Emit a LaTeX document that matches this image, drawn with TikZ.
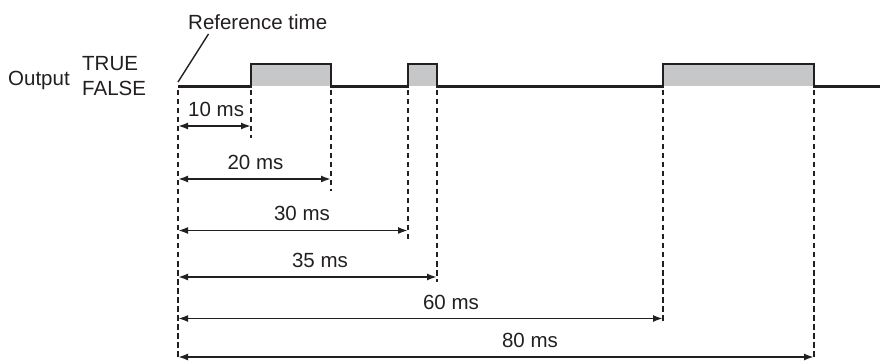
\documentclass[tikz,border=0pt]{standalone}
\usepackage{fontspec}
\setmainfont{Liberation Sans}
\usetikzlibrary{arrows.meta}
\definecolor{pulsegray}{HTML}{C6C7C9}
\definecolor{ink}{HTML}{231F20}
\tikzset{
  lbl/.style={anchor=base, inner sep=0pt, text=ink, font=\fontsize{20.5}{24}\selectfont},
  signal/.style={line width=2.3pt, draw=ink},
  guide/.style={line width=1.9pt, draw=ink, dash pattern=on 5.5pt off 3.5pt},
  dimarrow/.style={line width=1.8pt, draw=ink, {Latex[length=10pt,width=7pt]}-{Latex[length=10pt,width=7pt]}},
  refline/.style={line width=1.4pt, draw=ink}
}
\begin{document}
\begin{tikzpicture}[x=1pt,y=-1pt]
\useasboundingbox (0,0) rectangle (880,363);
% levels
\def\hi{64}
\def\lo{86.5}
% pulse fills
\fill[pulsegray] (251,\hi) rectangle (331,\lo);
\fill[pulsegray] (408,\hi) rectangle (437,\lo);
\fill[pulsegray] (663,\hi) rectangle (814,\lo);
% signal
\coordinate (s0) at (178,\lo);
\coordinate (send) at (880,\lo);
\draw[signal] (s0) -- (251,\lo) -- (251,\hi) -- (331,\hi) -- (331,\lo) -- (408,\lo) -- (408,\hi) -- (437,\hi) -- (437,\lo) -- (663,\lo) -- (663,\hi) -- (814,\hi) -- (814,\lo) -- (send);
% labels
\node[lbl, anchor=base west] (out) at (8,86) {Output};
\node[lbl, anchor=base west] (tr) at (82,71) {TRUE};
\node[lbl, anchor=base west] (fa) at (82,95.5) {FALSE};
\node[lbl, anchor=base west] (ref) at (188,30) {Reference time};
% reference line
\coordinate (r0) at (178,82);
\coordinate (r1) at (208.5,34);
\draw[refline] (r0) -- (r1);
% guide lines
\coordinate (g0t) at (178,90);   \coordinate (g0b) at (178,359);
\coordinate (g1t) at (251,90);   \coordinate (g1b) at (251,138);
\coordinate (g2t) at (331,90);   \coordinate (g2b) at (331,191);
\coordinate (g3t) at (408,90);   \coordinate (g3b) at (408,240);
\coordinate (g4t) at (437,90);   \coordinate (g4b) at (437,282);
\coordinate (g5t) at (663,90);   \coordinate (g5b) at (663,322);
\coordinate (g6t) at (814,90);   \coordinate (g6b) at (814,359);
\foreach \i in {0,...,6}{\draw[guide] (g\i t) -- (g\i b);}
% dimension arrows
\coordinate (a1s) at (178,126); \coordinate (a1e) at (251,126);
\coordinate (a2s) at (178,179); \coordinate (a2e) at (331,179);
\coordinate (a3s) at (178,230.5); \coordinate (a3e) at (408,230.5);
\coordinate (a4s) at (178,277); \coordinate (a4e) at (437,277);
\coordinate (a5s) at (178,318.5); \coordinate (a5e) at (663,318.5);
\coordinate (a6s) at (178,357); \coordinate (a6e) at (814,357);
\foreach \i in {1,...,6}{\draw[dimarrow] (a\i s) -- (a\i e);}
% dimension labels
\node[lbl, anchor=base west] (l1) at (188,117) {10 ms};
\node[lbl] (l2) at (255.5,170) {20 ms};
\node[lbl] (l3) at (302,220.5) {30 ms};
\node[lbl] (l4) at (320,268) {35 ms};
\node[lbl] (l5) at (451,309) {60 ms};
\node[lbl] (l6) at (530,347.5) {80 ms};
\end{tikzpicture}
\end{document}
